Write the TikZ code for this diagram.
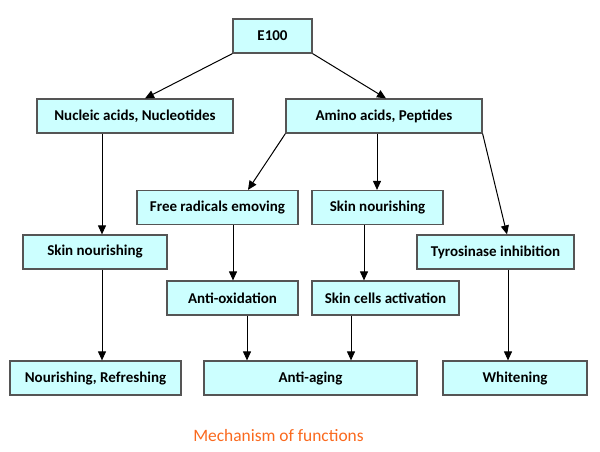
\documentclass[tikz,border=0pt]{standalone}
\usepackage{fontspec}
\setmainfont{Carlito}
\usepackage{xcolor}
\usetikzlibrary{arrows.meta,positioning}

\definecolor{boxfill}{RGB}{204,255,255}
\definecolor{boxline}{RGB}{85,85,85}
\definecolor{capcolor}{RGB}{250,105,30}

\begin{document}
\begin{tikzpicture}[x=1pt,y=-1pt]
      \tikzstyle{box}=[draw=boxline,fill=boxfill,line width=1.2pt,minimum height=34pt,inner sep=0pt,font=\bfseries\fontsize{15}{17}\selectfont]
      \tikzstyle{link}=[line width=1pt,-{Triangle[length=9pt,width=8pt]}]
      \tikzstyle{caption}=[text=capcolor,font=\fontsize{17.4}{20}\selectfont]

      \useasboundingbox (0,0) rectangle (600,451);

      % top levels
      \node (e100) [box,minimum width=79pt] at (272.5,36) {E100};
      \node (nucleic) [box,minimum width=196pt] at (135,116) {Nucleic acids, Nucleotides};
      \node (amino) [box,minimum width=196pt] at (384,116) {Amino acids, Peptides};

      % middle levels
      \node (radicals) [box,minimum width=161pt] at (217.5,207.5) {Free radicals emoving};
      \node (nourishmid) [box,minimum width=131pt] at (377.5,207.5) {Skin nourishing};
      \node (nourishleft) [box,minimum width=144pt] at (95,252) {Skin nourishing};
      \node (tyrosinase) [box,minimum width=157pt] at (495.5,252) {Tyrosinase inhibition};
      \node (oxidation) [box,minimum width=131pt] at (232.5,298) {Anti-oxidation};
      \node (activation) [box,minimum width=147pt] at (385.5,298) {Skin cells activation};

      % results
      \node (refreshing) [box,minimum width=171pt] at (95.5,378) {Nourishing, Refreshing};
      \node (antiaging) [box,minimum width=213pt] at (310.5,378) {Anti-aging};
      \node (whitening) [box,minimum width=144pt] at (515,378) {Whitening};

      \node (title) [caption] at (278.5,436) {Mechanism of functions};

      % arrows
      \draw[link] (e100.south west) -- ([xshift=10pt]nucleic.north);
      \draw[link] (e100.south east) -- ([xshift=2pt]amino.north);
      \draw[link] ([xshift=-33pt]nucleic.south) -- ([xshift=7pt]nourishleft.north);
      \draw[link] ([xshift=7pt]nourishleft.south) -- ([xshift=6.5pt]refreshing.north);
      \draw[link] (amino.south west) -- ([xshift=30.5pt]radicals.north);
      \draw[link] ([xshift=-7pt]amino.south) -- ([xshift=-0.5pt]nourishmid.north);
      \draw[link] (amino.south east) -- ([xshift=11.5pt]tyrosinase.north);
      \draw[link] ([xshift=15.5pt]radicals.south) -- ([xshift=0.5pt]oxidation.north);
      \draw[link] ([xshift=-13.5pt]nourishmid.south) -- ([xshift=-21.5pt]activation.north);
      \draw[link] ([xshift=14.5pt]oxidation.south) -- ([xshift=-63.5pt]antiaging.north);
      \draw[link] ([xshift=-34.5pt]activation.south) -- ([xshift=40.5pt]antiaging.north);
      \draw[link] ([xshift=12.5pt]tyrosinase.south) -- ([xshift=-7pt]whitening.north);
    \end{tikzpicture}
\end{document}
